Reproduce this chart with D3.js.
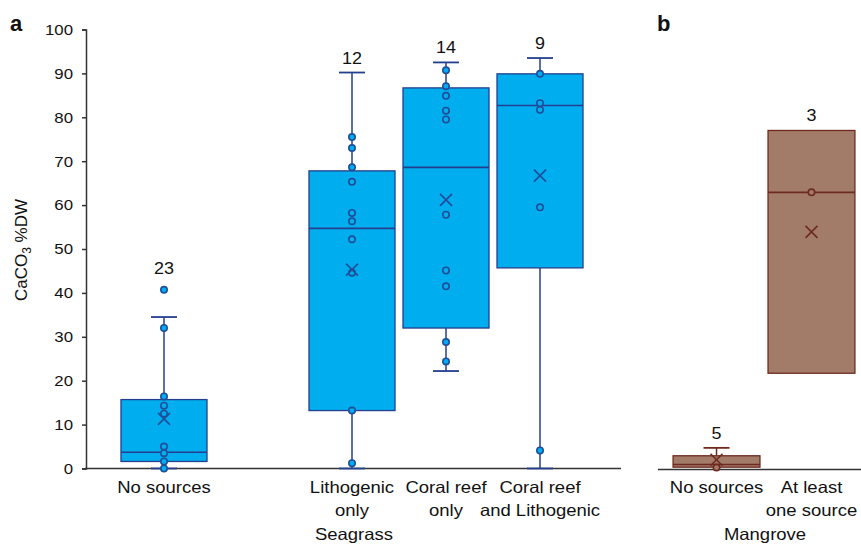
<!DOCTYPE html>
<html>
<head>
<meta charset="utf-8">
<script src="https://cdn.jsdelivr.net/npm/d3@7"></script>
<style>
  body { margin: 0; background: #fff; }
  svg text { font-family: "Liberation Sans", Arial, Helvetica, sans-serif; fill: #111; }
</style>
</head>
<body>
<svg width="861" height="547"></svg>
<script>
// ---- data: panel a (seagrass) ----
const seagrassSlots = ["No sources", "gap", "Lithogenic only", "Coral reef only", "Coral reef and Lithogenic"];
const seagrassCats = ["No sources", "Lithogenic only", "Coral reef only", "Coral reef and Lithogenic"];
const seagrassLabels = [["No sources"], ["Lithogenic", "only"], ["Coral reef", "only"], ["Coral reef", "and Lithogenic"]];
const seagrassLow = [0, 0, 22.2, 0];
const seagrassQ1 = [1.6, 13.2, 32.0, 45.7];
const seagrassMedian = [3.7, 54.7, 68.6, 82.7];
const seagrassQ3 = [15.7, 67.8, 86.7, 89.9];
const seagrassHigh = [34.5, 90.2, 92.5, 93.5];
const seagrassMean = [11.3, 45.3, 61.2, 66.7];
const seagrassN = [23, 12, 14, 9];
const seagrassPoints = [
  [40.7, 32.0, 16.4, 14.3, 12.5, 5.0, 3.5, 1.6, 0],
  [75.5, 73.0, 68.6, 65.3, 58.2, 56.3, 52.2, 44.6, 13.2, 1.2],
  [90.7, 87.1, 84.9, 81.5, 79.5, 57.8, 45.1, 41.5, 28.8, 24.4],
  [89.9, 83.2, 81.7, 59.5, 4.1]
];

// ---- data: panel b (mangrove) ----
const mangroveCats = ["No sources", "At least one source"];
const mangroveLabels = [["No sources"], ["At least", "one source"]];
const mangroveLow = [0.3, 21.7];
const mangroveQ1 = [0.3, 21.7];
const mangroveMedian = [0.9, 62.9];
const mangroveQ3 = [2.9, 77.0];
const mangroveHigh = [4.7, 77.0];
const mangroveMean = [2.0, 53.9];
const mangroveN = [5, 3];
const mangrovePoints = [[0.2], [62.9]];

const yTicks = [0, 10, 20, 30, 40, 50, 60, 70, 80, 90, 100];

const svg = d3.select("svg");
const y = d3.scaleLinear().domain([0, 100]).range([468.5, 29.5]);

const xA = d3.scaleBand().domain(seagrassSlots).range([113, 591]).padding(0.085);
const xB = d3.scaleBand().domain(mangroveCats).range([665, 863]).padding(0.085);

const blue = { fill: "#00aeef", line: "#243f8f", dot: "#1f4e9a" };
const brown = { fill: "#a27b69", line: "#6e2a20", dot: "#6e2a20" };

// y axis (panel a only)
const yAxis = svg.append("g")
  .attr("transform", "translate(86,0)")
  .call(d3.axisLeft(y).tickValues(yTicks).tickSize(4).tickPadding(9));
yAxis.selectAll("path, line").attr("stroke", "#333").attr("stroke-width", 1.5);
yAxis.selectAll("text").attr("font-size", 15).attr("fill", "#111")
  .style("font-family", "'Liberation Sans', Arial, sans-serif");

// x axis lines
svg.append("line").attr("x1", 85).attr("x2", 621).attr("y1", y(0)).attr("y2", y(0))
  .attr("stroke", "#333").attr("stroke-width", 1.5);
svg.append("line").attr("x1", 658).attr("x2", 861).attr("y1", y(0) + 1).attr("y2", y(0) + 1)
  .attr("stroke", "#333").attr("stroke-width", 1.5);

function drawBoxes(x, cats, labels, low, q1, med, q3, high, mean, n, points, col) {
  const g = svg.append("g");
  cats.forEach((c, i) => {
    const cx = x(c) + x.bandwidth() / 2;
    const bw = x.bandwidth();
    const capW = 13;

    // whiskers
    if (high[i] > q3[i]) {
      g.append("line").attr("x1", cx).attr("x2", cx).attr("y1", y(q3[i])).attr("y2", y(high[i]))
        .attr("stroke", col.line).attr("stroke-width", 1.5);
      g.append("line").attr("x1", cx - capW).attr("x2", cx + capW).attr("y1", y(high[i])).attr("y2", y(high[i]))
        .attr("stroke", col.line).attr("stroke-width", 1.8);
    }
    if (low[i] < q1[i]) {
      g.append("line").attr("x1", cx).attr("x2", cx).attr("y1", y(q1[i])).attr("y2", y(low[i]))
        .attr("stroke", col.line).attr("stroke-width", 1.5);
      g.append("line").attr("x1", cx - capW).attr("x2", cx + capW).attr("y1", y(low[i])).attr("y2", y(low[i]))
        .attr("stroke", col.line).attr("stroke-width", 1.8);
    }

    // box
    g.append("rect")
      .attr("x", x(c)).attr("width", bw)
      .attr("y", y(q3[i])).attr("height", y(q1[i]) - y(q3[i]))
      .attr("fill", col.fill).attr("stroke", col.line).attr("stroke-width", 1.3);
    g.append("line").attr("x1", x(c)).attr("x2", x(c) + bw).attr("y1", y(med[i])).attr("y2", y(med[i]))
      .attr("stroke", col.line).attr("stroke-width", 1.6);

    // points
    g.selectAll(null).data(points[i]).enter().append("circle")
      .attr("cx", cx).attr("cy", d => y(d)).attr("r", 3.2)
      .attr("fill", col.fill).attr("stroke", col.dot).attr("stroke-width", 1.6);

    // mean marker
    const my = y(mean[i]), s = 6;
    g.append("path")
      .attr("d", `M${cx - s},${my - s}L${cx + s},${my + s}M${cx - s},${my + s}L${cx + s},${my - s}`)
      .attr("stroke", col.dot).attr("stroke-width", 1.6).attr("fill", "none");

    // n label
    const maxPt = d3.max(points[i]);
    const top = Math.max(high[i], maxPt);
    const off = maxPt > high[i] ? 16 : 9;
    g.append("text").attr("class", "st").attr("x", cx).attr("y", y(top) - off)
      .attr("text-anchor", "middle").attr("font-size", 16).text(n[i]);

    // category label
    const t = g.append("text").attr("text-anchor", "middle").attr("font-size", 16.5);
    labels[i].forEach((l, k) => {
      t.append("tspan").attr("class", "st").attr("x", cx).attr("y", 493 + k * 23).text(l);
    });
  });
}

drawBoxes(xA, seagrassCats, seagrassLabels, seagrassLow, seagrassQ1, seagrassMedian, seagrassQ3,
  seagrassHigh, seagrassMean, seagrassN, seagrassPoints, blue);
drawBoxes(xB, mangroveCats, mangroveLabels, mangroveLow, mangroveQ1, mangroveMedian, mangroveQ3,
  mangroveHigh, mangroveMean, mangroveN, mangrovePoints, brown);

// group titles
svg.append("text").attr("class", "st").attr("x", 354).attr("y", 539.5)
  .attr("text-anchor", "middle").attr("font-size", 16.5).text("Seagrass");
svg.append("text").attr("class", "st").attr("x", 765).attr("y", 539.5)
  .attr("text-anchor", "middle").attr("font-size", 16.5).text("Mangrove");

// panel letters
svg.append("text").attr("x", 10).attr("y", 31).attr("font-size", 22).attr("font-weight", "bold").text("a");
svg.append("text").attr("x", 657).attr("y", 31).attr("font-size", 22).attr("font-weight", "bold").text("b");

// y title
const yt = svg.append("text")
  .attr("transform", "translate(27,250) rotate(-90)")
  .attr("text-anchor", "middle").attr("font-size", 17);
yt.append("tspan").text("CaCO");
yt.append("tspan").attr("font-size", 12).attr("dy", 4).text("3");
yt.append("tspan").attr("dy", -4).text(" %DW");

// the source picture is a bit wider than the font: stretch text horizontally
yAxis.selectAll("text").classed("st", true);
svg.selectAll(".st").each(function () {
  const len = this.getComputedTextLength();
  d3.select(this).attr("textLength", len * 1.12).attr("lengthAdjust", "spacingAndGlyphs");
});
</script>
</body>
</html>
